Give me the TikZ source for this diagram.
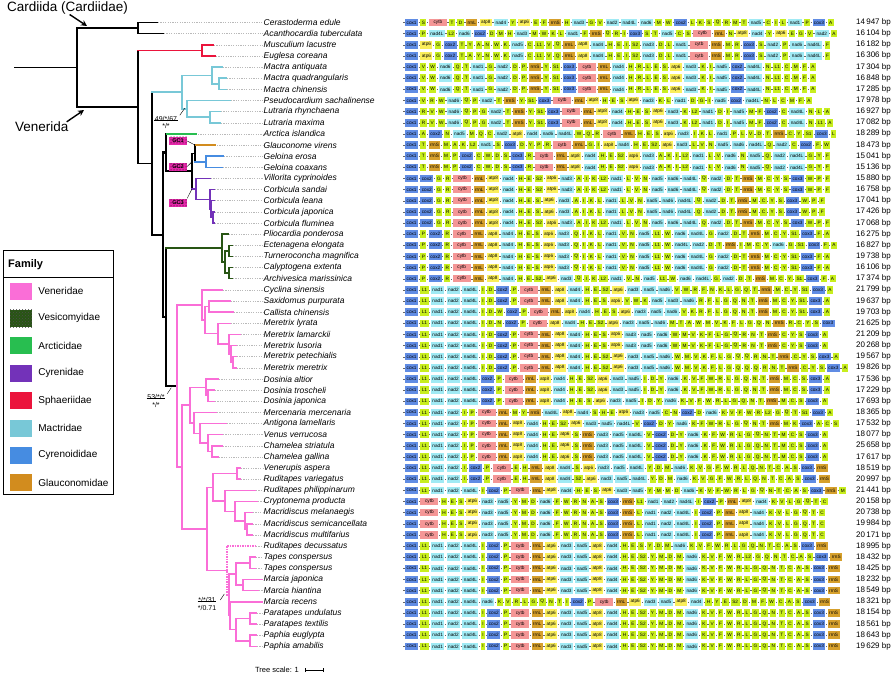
\documentclass[tikz,border=0pt]{standalone}
\usepackage{fontspec}
\setmainfont{Liberation Sans}
\usetikzlibrary{arrows.meta,patterns,positioning}
% family colours
\definecolor{venc}{RGB}{250,110,215}
\definecolor{vesc}{RGB}{40,85,20}
\definecolor{arcc}{RGB}{40,190,80}
\definecolor{cyrc}{RGB}{115,50,185}
\definecolor{sphc}{RGB}{235,20,60}
\definecolor{macc}{RGB}{120,200,215}
\definecolor{cyoc}{RGB}{70,140,225}
\definecolor{glac}{RGB}{210,140,30}
\definecolor{gcc}{RGB}{230,40,170}
% gene colours
\definecolor{trnac}{RGB}{200,238,30}
\definecolor{nadc}{RGB}{160,234,244}
\definecolor{coxc}{RGB}{96,140,228}
\definecolor{atpc}{RGB}{250,238,90}
\definecolor{cytc}{RGB}{244,150,150}
\definecolor{rrnc}{RGB}{214,160,44}
\tikzset{
  blk/.style={black, line width=1.6pt, line cap=rect},
  blkt/.style={black, line width=2.2pt, line cap=rect},
  ven/.style={venc, line width=1.5pt, line cap=rect},
  vend/.style={venc, line width=1.5pt, densely dotted},
  ves/.style={vesc, line width=1.5pt, line cap=rect},
  arc/.style={arcc, line width=1.5pt},
  cyr/.style={cyrc, line width=1.5pt, line cap=rect},
  sph/.style={sphc, line width=1.5pt, line cap=rect},
  mac/.style={macc, line width=1.5pt, line cap=rect},
  cyo/.style={cyoc, line width=1.5pt, line cap=rect},
  gla/.style={glac, line width=1.5pt},
  lead/.style={gray!55, line width=0.5pt, dash pattern=on 1.2pt off 1.2pt},
  spname/.style={font=\fontsize{8.5}{9}\selectfont\itshape, inner sep=0.5pt, anchor=west},
  bplab/.style={font=\fontsize{8}{9}\selectfont, inner sep=0pt, anchor=east},
  gene/.style={fill=trnac, inner xsep=1.45pt, inner ysep=0pt, minimum height=7.5pt,
    font=\fontsize{4.7}{5}\selectfont, anchor=west},
  gdash/.style={black!60, line width=0.4pt},
  g-cox1/.style={fill=coxc}, g-cox2/.style={fill=coxc}, g-cox3/.style={fill=coxc},
  g-nad1/.style={fill=nadc}, g-nad2/.style={fill=nadc}, g-nad3/.style={fill=nadc},
  g-nad4/.style={fill=nadc}, g-nad4L/.style={fill=nadc}, g-nad5/.style={fill=nadc},
  g-nad6/.style={fill=nadc},
  g-atp6/.style={fill=atpc}, g-atp8/.style={fill=atpc},
  g-cytb/.style={fill=cytc, minimum width=18pt},
  g-rrnL/.style={fill=rrnc}, g-rrnS/.style={fill=rrnc},
  swatch/.style={minimum width=22pt, minimum height=17pt, inner sep=0pt},
  legtext/.style={font=\fontsize{10}{11}\selectfont, inner sep=0pt},
  gcbox/.style={fill=gcc, minimum width=18pt, minimum height=8pt, inner sep=0pt,
    font=\fontsize{5.5}{6}\selectfont\bfseries, postaction={pattern=dots}},
  supp/.style={font=\fontsize{7}{8}\selectfont, inner sep=0.5pt},
  title/.style={font=\fontsize{13.5}{15}\selectfont, inner sep=0pt},
  arr/.style={black, line width=1.4pt, -{Stealth[length=6pt,width=6pt]}}
}
% one clade: parent, two children, styles of vertical and the two branches
\newcommand{\cl}[6]{%
  \draw[#4] (#1 |- #2) -- (#1 |- #3);
  \draw[#5] (#1 |- #2) -- (#2);
  \draw[#6] (#1 |- #3) -- (#3);}
% gene order strip of row #1
\newcommand{\genestrip}[2]{%
  \coordinate (gl) at (403,{22.5+11.14*(#1-1)});
  \foreach \g in {#2}{
    \draw[gdash] ([xshift=0.4pt]gl) -- ++(1.2,0);
    \node[gene, g-\g/.try] (gb) at ([xshift=2pt]gl) {\g};
    \coordinate (gl) at (gb.east);
  }}
\begin{document}
\begin{tikzpicture}[x=1pt, y=-1pt]
\useasboundingbox (0,0) rectangle (894,674);

% tips, names and sizes
\foreach \tx/\nm/\bp [count=\k] in {
  157/Cerastoderma edule/14\,947, 163/Acanthocardia tuberculata/16\,104,
  213/Musculium lacustre/16\,182, 215/Euglesa coreana/16\,306,
  222/Mactra antiquata/17\,304, 226/Mactra quadrangularis/16\,848,
  226/Mactra chinensis/17\,285, 230/Pseudocardium sachalinense/17\,978,
  220/Lutraria rhynchaena/16\,927, 220/Lutraria maxima/17\,082,
  197/Arctica islandica/18\,289, 216/Glauconome virens/18\,473,
  223/Geloina erosa/15\,041, 222/Geloina coaxans/15\,136,
  210/Villorita cyprinoides/15\,880, 214/Corbicula sandai/16\,758,
  214/Corbicula leana/17\,041, 214/Corbicula japonica/17\,426,
  214/Corbicula fluminea/17\,068, 228/Pliocardia ponderosa/16\,275,
  232/Ectenagena elongata/16\,827, 232/Turneroconcha magnifica/19\,738,
  232/Calyptogena extenta/16\,106, 232/Archivesica marissinica/17\,374,
  222/Cyclina sinensis/21\,799, 230/Saxidomus purpurata/19\,637,
  233/Callista chinensis/19\,703, 230/Meretrix lyrata/21\,625,
  240/Meretrix lamarckii/21\,209, 236/Meretrix lusoria/20\,268,
  236/Meretrix petechialis/19\,567, 236/Meretrix meretrix/19\,826,
  218/Dosinia altior/17\,536, 214/Dosinia troscheli/17\,229,
  214/Dosinia japonica/17\,693, 216/Mercenaria mercenaria/18\,365,
  226/Antigona lamellaris/17\,532, 222/Venus verrucosa/18\,077,
  222/Chamelea striatula/25\,658, 218/Chamelea gallina/17\,617,
  240/Venerupis aspera/18\,519, 240/Ruditapes variegatus/20\,997,
  255/Ruditapes philippinarum/21\,441, 257/Cryptonema producta/20\,158,
  252/Macridiscus melanaegis/20\,738, 252/Macridiscus semicancellata/19\,984,
  252/Macridiscus multifarius/20\,171, 255/Ruditapes decussatus/18\,995,
  255/Tapes conspersus/18\,432, 255/Tapes conspersus/18\,425,
  262/Marcia japonica/18\,232, 258/Marcia hiantina/18\,549,
  262/Marcia recens/18\,321, 256/Paratapes undulatus/18\,154,
  256/Paratapes textilis/18\,561, 256/Paphia euglypta/18\,643,
  256/Paphia amabilis/19\,629}{
  \coordinate (t\k) at (\tx,{22.5+11.14*(\k-1)});
  \node[spname] (n\k) at (263,{22.5+11.14*(\k-1)}) {\nm};
  \node[bplab] (b\k) at (891,{22.5+11.14*(\k-1)}) {\bp~bp};
  \draw[lead] ([xshift=1pt]t\k) -- (n\k.west);
}

% internal nodes
\coordinate (r0) at (15,67.5);
\coordinate (rt) at (77,67.5);
\coordinate (ca) at (138,28.07);
\coordinate (vd) at (138,106.9);
\coordinate (sph) at (202,50.35);
\coordinate (n152) at (152,163.4);
\coordinate (mac) at (182,92.1);
\coordinate (ma1) at (212,75.4);
\coordinate (ma2) at (219,83.77);
\coordinate (ps) at (187,108.8);
\coordinate (lu) at (210,117.19);
\coordinate (c0) at (163,234.8);
\coordinate (cg) at (166,152.5);
\coordinate (gc) at (192,171.15);
\coordinate (gcy) at (195,153.4);
\coordinate (cyo) at (206,161.75);
\coordinate (cyre) at (196,188.9);
\coordinate (co1) at (210,199.35);
\coordinate (co2) at (211,209.1);
\coordinate (co3) at (213,217.45);
\coordinate (vv) at (166,317);
\coordinate (ve) at (222,248.1);
\coordinate (ve2) at (225,262);
\coordinate (ve3) at (229,250.87);
\coordinate (ve4) at (229,273.15);
\coordinate (vn) at (177,386);
\coordinate (u1) at (202,305);
\coordinate (u2) at (205,320.1);
\coordinate (s1) at (209,306.57);
\coordinate (me1) at (218,333.7);
\coordinate (me2) at (229,344.2);
\coordinate (me3) at (231,353.9);
\coordinate (me4) at (233,362.27);
\coordinate (v2) at (182,467);
\coordinate (dc) at (190,405.1);
\coordinate (d1) at (206,387.3);
\coordinate (d2) at (208,395.7);
\coordinate (m1) at (194,422.8);
\coordinate (m2) at (200,433.3);
\coordinate (m3) at (208,443);
\coordinate (m4) at (212,451.4);
\coordinate (r1) at (207,528.9);
\coordinate (r2) at (213,487.3);
\coordinate (vr) at (237,473.7);
\coordinate (cm) at (225,500.8);
\coordinate (cm2) at (235,511.3);
\coordinate (mc) at (245,521);
\coordinate (mc2) at (247,529.4);
\coordinate (p1) at (227,570.4);
\coordinate (p2) at (229,594.8);
\coordinate (tm) at (236,573.9);
\coordinate (tc) at (250,562.8);
\coordinate (mj) at (243,585.1);
\coordinate (p3) at (230,615.7);
\coordinate (pp) at (236,629.6);
\coordinate (pa) at (250,618.5);
\coordinate (ph) at (250,640.8);

% branches
\draw[blk] (r0) -- (rt);
\cl{rt}{ca}{vd}{blk}{blk}{blk}
\cl{ca}{t1}{t2}{blk}{blk}{blk}
\cl{vd}{sph}{n152}{blk}{sph}{blk}
\cl{sph}{t3}{t4}{sph}{sph}{sph}
\cl{n152}{mac}{c0}{blk}{mac}{blk}
\cl{mac}{ma1}{ps}{mac}{mac}{mac}
\cl{ma1}{t5}{ma2}{mac}{mac}{mac}
\cl{ma2}{t6}{t7}{mac}{mac}{mac}
\cl{ps}{t8}{lu}{mac}{mac}{mac}
\cl{lu}{t9}{t10}{mac}{mac}{mac}
\cl{c0}{cg}{vv}{blk}{blkt}{blk}
\cl{cg}{t11}{gc}{blkt}{arc}{blkt}
\cl{gc}{gcy}{cyre}{blk}{blk}{cyr}
\cl{gcy}{t12}{cyo}{blk}{gla}{cyo}
\cl{cyo}{t13}{t14}{cyo}{cyo}{cyo}
\cl{cyre}{t15}{co1}{cyr}{cyr}{cyr}
\cl{co1}{t16}{co2}{cyr}{cyr}{cyr}
\cl{co2}{t17}{co3}{cyr}{cyr}{cyr}
\cl{co3}{t18}{t19}{cyr}{cyr}{cyr}
\cl{vv}{ve}{vn}{blk}{ves}{blk}
\cl{ve}{t20}{ve2}{ves}{ves}{ves}
\cl{ve2}{ve3}{ve4}{ves}{ves}{ves}
\cl{ve3}{t21}{t22}{ves}{ves}{ves}
\cl{ve4}{t23}{t24}{ves}{ves}{ves}
\cl{vn}{u1}{v2}{ven}{ven}{ven}
\cl{u1}{t25}{u2}{ven}{ven}{ven}
\cl{u2}{s1}{me1}{ven}{ven}{ven}
\cl{s1}{t26}{t27}{ven}{ven}{ven}
\cl{me1}{t28}{me2}{ven}{ven}{ven}
\cl{me2}{t29}{me3}{ven}{ven}{ven}
\cl{me3}{t30}{me4}{ven}{ven}{ven}
\cl{me4}{t31}{t32}{ven}{ven}{ven}
\cl{v2}{dc}{r1}{ven}{ven}{ven}
\cl{dc}{d1}{m1}{ven}{ven}{ven}
\cl{d1}{t33}{d2}{ven}{ven}{ven}
\cl{d2}{t34}{t35}{ven}{ven}{ven}
\cl{m1}{t36}{m2}{ven}{ven}{ven}
\cl{m2}{t37}{m3}{ven}{ven}{ven}
\cl{m3}{t38}{m4}{ven}{ven}{ven}
\cl{m4}{t39}{t40}{ven}{ven}{ven}
\cl{r1}{r2}{p1}{ven}{ven}{ven}
\cl{r2}{vr}{cm}{ven}{ven}{ven}
\cl{vr}{t41}{t42}{ven}{ven}{ven}
\cl{cm}{t43}{cm2}{ven}{ven}{ven}
\cl{cm2}{t44}{mc}{ven}{ven}{ven}
\cl{mc}{t45}{mc2}{ven}{ven}{ven}
\cl{mc2}{t46}{t47}{ven}{ven}{ven}
\cl{p1}{t48}{p2}{vend}{vend}{ven}
\cl{p2}{tm}{p3}{ven}{ven}{ven}
\cl{tm}{tc}{mj}{ven}{ven}{ven}
\cl{tc}{t49}{t50}{ven}{ven}{ven}
\cl{mj}{t51}{t52}{ven}{ven}{ven}
\cl{p3}{t53}{pp}{ven}{ven}{ven}
\cl{pp}{pa}{ph}{ven}{ven}{ven}
\cl{pa}{t54}{t55}{ven}{ven}{ven}
\cl{ph}{t56}{t57}{ven}{ven}{ven}

% gene-cluster tags
\node[gcbox] (gc1) at (178,141) {GC1};
\node[gcbox] (gc2) at (178,166.5) {GC2};
\node[gcbox] (gc3) at (178,202.5) {GC3};
\draw[thin] (gc1.east) -- (gcy |- t12);
\draw[thin] (gc2.east) -- (gc |- cyo);
\draw[thin] (gc3.north east) -- (gc |- cyre);

% support values
\node[supp] (s49) at (166,118.5) {49/*/67};
\draw[thin] ([yshift=2pt]s49.south west) -- ([yshift=2pt]s49.south east);
\node[supp, below=1pt of s49] (s49b) {*/*};
\draw[thin] ([xshift=2pt]s49.north east) -- ++(5,-7);
\node[supp] (s53) at (156,397) {53/*/*};
\draw[thin] ([yshift=2pt]s53.south west) -- ([yshift=2pt]s53.south east);
\node[supp, below=1pt of s53] (s53b) {*/*};
\draw[thin] ([xshift=2pt]s53.north east) -- ++(4,-6);
\node[supp] (s31) at (207,600) {*/*/31};
\draw[thin] ([yshift=2pt]s31.south west) -- ([yshift=2pt]s31.south east);
\node[supp, below=1pt of s31] (s31b) {*/0.71};
\draw[thin] ([xshift=4pt]s31.east) -- ++(4,-6);

% order labels
\node[title, anchor=west] (cdt) at (7,8) {Cardiida (Cardiidae)};
\coordinate (cda) at (87,26);
\draw[arr] ([xshift=2pt]cdt.south) -- (cda);
\node[title, anchor=west] (vdt) at (15,127) {Venerida};
\coordinate (vda) at (84,110);
\draw[arr] ([xshift=-2pt]vdt.north east) -- (vda);

% legend
\draw[thin] (3,250) rectangle (113,494);
\node[font=\fontsize{11}{12}\selectfont\bfseries, anchor=west, inner sep=0pt] (fam) at (8,265) {Family};
\draw[thin] (3,277) -- (113,277);
\foreach \c/\nm [count=\i] in {venc/Veneridae, vesc/Vesicomyidae, arcc/Arcticidae,
  cyrc/Cyrenidae, sphc/Sphaeriidae, macc/Mactridae, cyoc/Cyrenoididae, glac/Glauconomidae}{
  \node[swatch, fill=\c] (sw\i) at (21,{291+27.4*(\i-1)}) {};
  \node[legtext, right=6pt of sw\i] (lg\i) {\nm};
}
\fill[pattern=crosshatch dots, pattern color=black!70] (sw2.south west) rectangle (sw2.north east);

% tree scale
\node[font=\fontsize{7.5}{8}\selectfont, anchor=east, inner sep=0pt] (tsc) at (299,670) {Tree scale: 1};
\coordinate (sb1) at (305,670);
\coordinate (sb2) at (323,670);
\draw[thin] (sb1) -- (sb2);
\draw[thin] ([yshift=-2pt]sb1) -- ([yshift=2pt]sb1);
\draw[thin] ([yshift=-2pt]sb2) -- ([yshift=2pt]sb2);

% gene orders
\genestrip{1}{cox1,S,cytb,T,D,rrnL,atp8,nad4,Y,atp6,E,F,rrnS,H,nad3,G,V,nad2,nad4L,nad6,M,W,cox2,L,K,S,Q,R,M,T,nad5,C,I,L,nad1,P,cox3,A}
\genestrip{2}{cox1,P,nad4L,L2,nad6,cox2,D,M,H,nad3,M,W,K,L,nad1,F,rrnS,Q,R,I,cox3,S,T,nad5,C,S,cytb,rrnL,N,atp8,nad4,Y,atp6,E,G,V,nad2,A}
\genestrip{3}{cox1,atp6,G,cox2,T,Y,A,N,W,K,nad5,C,L1,V,Q,rrnL,atp8,nad4,H,E,I,S2,nad3,D,L,nad1,cytb,rrnS,M,R,cox3,S,nad2,P,nad6,nad4L,F}
\genestrip{4}{cox1,atp6,G,cox2,T,A,Y,N,W,K,nad5,C,L1,V,Q,rrnL,atp8,nad4,H,E,I,S2,nad3,D,L,nad1,cytb,rrnS,M,R,cox3,S,nad2,P,nad6,nad4L,F}
\genestrip{5}{cox1,V,W,nad6,Q,T,nad1,G,nad2,D,P,rrnS,Y,S1,cox3,cytb,rrnL,nad4,H,R,L,E,S,atp6,nad3,K,I,nad5,cox2,nad4L,N,L1,C,M,F,A}
\genestrip{6}{cox1,V,W,nad6,Q,T,nad1,G,nad2,D,P,rrnS,Y,S1,cox3,cytb,rrnL,nad4,H,R,L,E,S,atp6,nad3,K,I,nad5,cox2,nad4L,N,L1,C,M,F,A}
\genestrip{7}{cox1,V,W,nad6,Q,T,nad1,G,nad2,D,P,rrnS,Y,S1,cox3,cytb,rrnL,nad4,H,R,L,E,S,atp6,nad3,K,I,nad5,cox2,nad4L,N,L1,C,M,F,A}
\genestrip{8}{cox1,V,R,W,nad6,Q,P,nad2,T,rrnS,Y,S1,cox3,cytb,rrnL,atp8,H,E,S,atp6,nad3,K,L,nad1,D,G,I,nad5,cox2,nad4L,N,L,C,M,F,A}
\genestrip{9}{cox1,R,V,W,nad6,Q,P,G,nad2,T,rrnS,Y,S1,cox3,cytb,rrnL,atp8,nad4,H,E,S,atp6,nad3,K,L2,nad1,D,I,nad5,M,F,cox2,C,nad4L,N,L,A}
\genestrip{10}{cox1,R,V,W,nad6,Q,P,G,nad2,T,rrnS,Y,S1,cox3,cytb,rrnL,atp8,nad4,H,E,S,atp6,nad3,K,L2,nad1,D,I,nad5,M,F,cox2,C,nad4L,N,L1,A}
\genestrip{11}{cox1,A,cox2,N,nad5,M,Q,C,nad2,atp8,nad4,nad6,nad4L,W,Q,R,cytb,rrnL,H,E,S,atp6,nad3,I,K,L,nad1,P,L,V,D,T,rrnS,C,Y,S1,cox3,L}
\genestrip{12}{cox1,T,rrnS,M,A,K,L2,nad1,S,cox3,D,Y,P,R,cytb,rrnL,G,I,atp8,nad4,H,E,S2,atp6,nad3,L,V,N,nad5,nad6,nad4L,Q,nad2,C,cox2,F,W}
\genestrip{13}{cox1,T,rrnS,M,P,cox2,C,W,D,S,cox3,R,cytb,rrnL,atp8,nad4,H,E,S2,atp6,nad3,A,K,I,L2,nad1,L,V,nad6,N,nad5,Q,nad2,nad4L,G,Y,F}
\genestrip{14}{cox1,T,rrnS,M,P,cox2,C,W,D,S,cox3,R,cytb,rrnL,atp8,nad4,H,E,S2,atp6,nad3,A,K,I,L2,nad1,L,V,nad6,N,nad5,Q,nad2,nad4L,G,Y,F}
\genestrip{15}{cox1,cox2,G,R,cytb,rrnL,atp8,nad4,H,E,S2,atp6,nad3,A,I,K,L2,nad1,L,V,N,nad5,nad6,nad4L,Q,nad2,D,T,rrnS,M,C,Y,S,cox3,W,P,F}
\genestrip{16}{cox1,cox2,G,R,cytb,rrnL,atp8,nad4,H,E,S2,atp6,nad3,A,I,K,L2,nad1,L,V,N,nad5,nad6,nad4L,Q,nad2,D,T,rrnS,M,C,Y,S,cox3,W,P,F}
\genestrip{17}{cox1,cox2,G,R,cytb,rrnL,atp8,nad4,H,E,S,atp6,nad3,A,I,K,L,nad1,L,V,N,nad5,nad6,nad4L,Q,nad2,D,T,rrnS,M,C,Y,S,cox3,W,P,F}
\genestrip{18}{cox1,cox2,G,R,cytb,rrnL,atp8,nad4,H,E,S,atp6,nad3,A,I,K,L,nad1,L,V,N,nad5,nad6,nad4L,Q,nad2,D,T,rrnS,M,C,Y,S,cox3,W,P,F}
\genestrip{19}{cox1,cox2,G,R,cytb,rrnL,atp8,nad4,H,E,S2,atp6,nad3,A,I,K,L2,nad1,L,V,N,nad5,nad6,nad4L,Q,nad2,D,T,rrnS,M,C,Y,S,cox3,W,P,F}
\genestrip{20}{cox1,P,cox2,R,cytb,rrnL,atp8,nad4,H,E,S,atp6,nad3,Q,I,K,L,nad1,V,N,nad5,L1,W,nad6,nad4L,G,nad2,D,T,rrnS,M,C,Y,S1,cox3,F,A}
\genestrip{21}{cox1,P,cox2,R,cytb,rrnL,atp8,nad4,H,E,S,atp6,nad3,Q,I,K,L,nad1,V,N,nad5,L1,W,nad4L,nad2,D,T,rrnS,I,M,C,Y,nad6,G,S1,cox3,F,A}
\genestrip{22}{cox1,P,cox2,R,cytb,rrnL,atp8,nad4,H,E,S,atp6,nad3,Q,I,K,L,nad1,V,N,nad5,L1,W,nad6,nad4L,G,nad2,D,T,rrnS,M,C,Y,S1,cox3,F,A}
\genestrip{23}{cox1,P,cox2,R,cytb,rrnL,atp8,nad4,H,E,S,atp6,nad3,Q,I,K,L,nad1,V,N,nad5,L1,W,nad6,nad4L,G,nad2,D,T,rrnS,M,C,Y,S1,cox3,F,A}
\genestrip{24}{cox1,P,cox2,R,cytb,rrnL,atp8,nad4,H,E,S2,atp6,nad3,Q,I,K,L2,nad1,V,N,nad5,L1,W,nad6,nad4L,G,nad2,D,T,rrnS,M,C,Y,S1,cox3,F,A}
\genestrip{25}{cox1,L1,nad1,nad2,nad4L,I,D,cox2,P,cytb,rrnL,atp8,nad4,H,E,S2,atp6,nad3,nad5,nad6,V,W,R,F,N,K,L,G,Q,T,rrnS,M,C,Y,S1,cox3,A}
\genestrip{26}{cox1,L1,nad1,nad2,nad4L,I,D,cox2,P,cytb,rrnL,atp8,nad4,H,E,S,atp6,V,W,K,nad5,nad3,nad6,R,F,L,G,Q,N,T,rrnS,M,C,Y,S1,cox3,A}
\genestrip{27}{cox1,L1,nad1,nad2,nad4L,I,D,W,cox2,P,cytb,rrnL,atp8,nad4,H,E,S,atp6,nad3,nad5,nad6,V,K,R,F,L,G,Q,N,T,rrnS,M,C,Y,S1,cox3,A}
\genestrip{28}{cox1,L1,nad1,nad2,nad4L,I,D,N,cox2,P,cytb,atp8,nad4,H,E,S2,atp6,nad3,nad5,nad6,M,T,A,W,M,V,K,F,L,G,Q,N,rrnS,R,C,Y,S,cox3}
\genestrip{29}{cox1,L1,nad1,nad2,nad4L,I,D,cox2,P,cytb,rrnL,atp8,nad4,H,E,S,atp6,nad3,nad5,nad6,W,M,V,K,F,L,G,Q,R,N,T,rrnS,C,Y,S,cox3,A}
\genestrip{30}{cox1,L1,nad1,nad2,nad4L,I,D,cox2,P,cytb,rrnL,atp8,nad4,H,E,S,atp6,nad3,nad5,nad6,W,M,V,K,F,L,G,Q,R,N,T,rrnS,C,Y,S,cox3,A}
\genestrip{31}{cox1,L1,nad1,nad2,nad4L,I,D,cox2,P,cytb,rrnL,atp8,nad4,H,E,S2,atp6,nad3,nad5,nad6,W,M,V,K,F,L,G,Q,Q,R,N,T,rrnS,C,Y,S,cox3,A}
\genestrip{32}{cox1,L1,nad1,nad2,nad4L,I,D,cox2,P,cytb,rrnL,atp8,nad4,H,E,S2,atp6,nad3,nad5,nad6,W,M,V,K,F,L,G,Q,Q,Q,R,N,T,rrnS,C,Y,S,cox3,A}
\genestrip{33}{cox1,L1,nad1,nad2,nad4L,cox2,P,cytb,rrnL,atp8,nad4,H,E,S2,atp6,nad3,nad5,I,D,Y,nad6,K,V,F,W,R,L,G,Q,N,T,rrnS,M,C,S,cox3,A}
\genestrip{34}{cox1,L1,nad1,nad2,nad4L,cox2,P,cytb,rrnL,atp8,nad4,H,E,S2,atp6,nad3,nad5,I,D,Y,nad6,K,V,F,W,R,L,G,Q,N,T,rrnS,M,C,S,cox3,A}
\genestrip{35}{cox1,L1,nad1,nad2,nad4L,cox2,P,cytb,rrnL,atp8,nad4,H,E,S,atp6,nad3,nad5,I,D,Y,nad6,K,V,F,W,R,L,G,Q,N,T,rrnS,M,C,S,cox3,A}
\genestrip{36}{cox1,L1,nad1,nad2,I,P,cytb,rrnL,M,Y,rrnS,nad4L,atp8,nad4,S,H,E,atp6,nad3,nad5,C,N,cox2,D,nad6,K,V,F,W,R,L2,G,Q,T,S1,cox3,A}
\genestrip{37}{cox1,L1,nad1,nad2,I,P,cytb,rrnL,atp8,nad4,H,E,S2,atp6,nad3,nad5,nad4L,V,cox2,D,Y,nad6,K,F,W,R,L,G,Q,N,T,rrnS,M,K,cox3,A,C,S}
\genestrip{38}{cox1,L1,nad1,nad2,I,P,cytb,rrnL,atp8,nad4,H,E,atp6,S,rrnS,nad3,nad5,nad4L,V,cox2,D,Y,nad6,K,F,W,R,L,G,Q,N,T,M,C,S,cox3,A}
\genestrip{39}{cox1,L1,nad1,nad2,I,P,cytb,rrnL,atp8,nad4,H,E,atp6,S,rrnS,nad3,nad5,nad4L,V,cox2,D,Y,nad6,K,F,W,R,L,G,Q,N,T,M,C,S,cox3,A}
\genestrip{40}{cox1,L1,nad1,nad2,I,P,cytb,rrnL,atp8,nad4,H,E,atp6,S,rrnS,nad3,nad5,nad4L,V,cox2,D,Y,nad6,K,F,W,R,L,G,Q,N,T,M,C,S,cox3,A}
\genestrip{41}{cox1,L1,nad1,nad2,I,cox2,P,cytb,E,H,rrnL,atp8,nad4,S,atp6,nad3,nad5,nad4L,Y,D,M,nad6,K,V,G,F,W,R,L,Q,N,T,C,A,S,cox3,rrnS}
\genestrip{42}{cox1,L1,nad1,nad2,I,cox2,P,cytb,E,H,rrnL,atp8,nad4,S2,atp6,nad3,nad5,nad4L,Y,D,M,nad6,K,V,G,F,W,R,L,Q,N,T,C,A,S,cox3,rrnS}
\genestrip{43}{cox1,L1,nad1,nad2,nad4L,I,cox2,P,cytb,rrnL,atp8,nad4,H,E,S,atp6,nad3,nad5,Y,M,M,D,nad6,K,V,F,W,R,L,G,Q,N,T,C,A,S,cox3,rrnS,M}
\genestrip{44}{cox1,cytb,H,E,S,atp6,nad3,nad5,Y,M,D,nad6,F,W,R,N,A,S,cox3,rrnS,L1,nad1,nad2,nad4L,I,cox2,P,rrnL,atp8,nad4,K,V,L,G,Q,T,C}
\genestrip{45}{cox1,cytb,H,E,S,atp6,nad3,nad5,Y,M,D,nad6,F,W,R,N,A,S,cox3,rrnS,L,nad1,nad2,nad4L,I,cox2,P,rrnL,atp8,nad4,K,V,L,G,Q,T,C}
\genestrip{46}{cox1,cytb,H,E,S,atp6,nad3,nad5,Y,M,D,nad6,F,W,R,N,A,S,cox3,rrnS,L,nad1,nad2,nad4L,I,cox2,P,rrnL,atp8,nad4,K,V,L,G,Q,T,C}
\genestrip{47}{cox1,cytb,H,E,S,atp6,nad3,nad5,Y,M,D,nad6,F,W,R,N,A,S,cox3,rrnS,L,nad1,nad2,nad4L,I,cox2,P,rrnL,atp8,nad4,K,V,L,G,Q,T,C}
\genestrip{48}{cox1,L1,nad1,nad2,nad4L,I,cox2,P,cytb,rrnL,atp6,nad3,nad5,atp8,nad4,H,E,S,Y,D,M,nad6,K,V,F,W,R,L,G,Q,N,T,C,A,S,cox3,rrnS}
\genestrip{49}{cox1,L1,nad1,nad2,nad4L,I,cox2,P,cytb,rrnL,atp6,nad3,nad5,atp8,nad4,H,E,S2,Y,M,D,M,nad6,K,V,F,W,R,L2,G,Q,N,T,C,A,S,cox3,rrnS}
\genestrip{50}{cox1,L1,nad1,nad2,nad4L,I,cox2,P,cytb,rrnL,atp6,nad3,nad5,atp8,nad4,H,E,S2,Y,M,D,M,nad6,K,V,F,W,R,L,G,Q,N,T,C,A,S,cox3,rrnS}
\genestrip{51}{cox1,L1,nad1,nad2,nad4L,I,cox2,P,cytb,rrnL,atp6,nad3,nad5,atp8,nad4,H,E,S2,Y,M,D,M,nad6,K,V,F,W,R,L,G,Q,N,T,C,A,S,cox3,rrnS}
\genestrip{52}{cox1,L1,nad1,nad2,nad4L,I,cox2,P,cytb,rrnL,atp6,nad3,nad5,atp8,nad4,H,E,S2,Y,M,D,M,nad6,K,V,F,W,R,L,G,Q,N,T,C,A,S,cox3,rrnS}
\genestrip{53}{cox1,L1,nad1,nad2,nad4L,nad6,K,V,R,L,G,Q,N,T,I,cox2,P,cytb,rrnL,atp6,nad3,nad5,atp8,nad4,H,Y,E,S2,D,M,F,W,C,A,S,cox3,rrnS}
\genestrip{54}{cox1,L1,nad1,nad2,nad4L,I,cox2,P,cytb,rrnL,atp6,nad3,nad5,atp8,nad4,H,E,S2,Y,M,D,M,nad6,K,V,F,W,R,L,G,Q,N,T,C,A,S,cox3,rrnS}
\genestrip{55}{cox1,L1,nad1,nad2,nad4L,I,cox2,P,cytb,rrnL,atp6,nad3,nad5,atp8,nad4,H,E,S2,Y,M,D,M,nad6,K,V,F,W,R,L,G,Q,N,T,C,A,S,cox3,rrnS}
\genestrip{56}{cox1,L1,nad1,nad2,nad4L,I,cox2,P,cytb,rrnL,atp6,nad3,nad5,atp8,nad4,H,E,S2,Y,M,D,M,nad6,K,V,F,W,R,L,G,Q,N,T,C,A,S,cox3,rrnS}
\genestrip{57}{cox1,L1,nad1,nad2,nad4L,I,cox2,P,cytb,rrnL,atp6,nad3,nad5,atp8,nad4,H,E,S2,Y,M,D,M,nad6,K,V,F,W,R,L,G,Q,N,T,C,A,S,cox3,rrnS}
\end{tikzpicture}
\end{document}
